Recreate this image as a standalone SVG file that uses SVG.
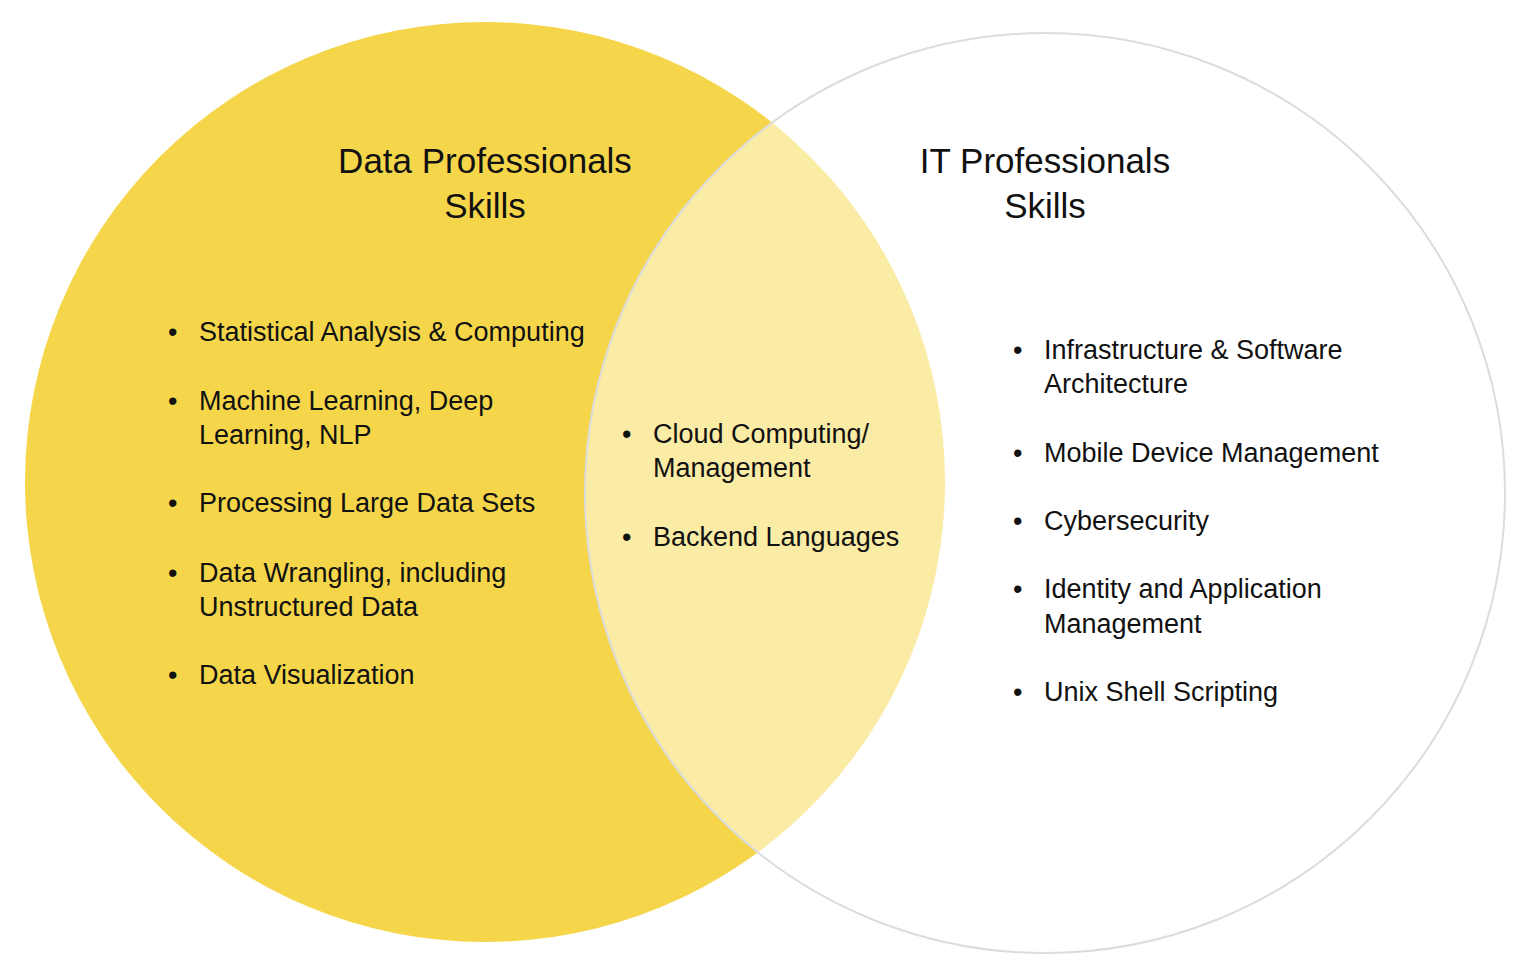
<svg xmlns="http://www.w3.org/2000/svg" width="1536" height="975" viewBox="0 0 1536 975">
<style>
text{font-family:"Liberation Sans",Arial,sans-serif;fill:#111}
.t{font-size:35px}
.i{font-size:27px}
</style>
<rect width="1536" height="975" fill="#fff"/>
<g id="data-circle"><circle cx="485" cy="482" r="460" fill="#F5D64A"/></g>
<g id="it-circle"><circle cx="1045" cy="493" r="460" fill="#fff" fill-opacity="0.5" stroke="#dcdcdc" stroke-width="2"/></g>
<g id="data-title" class="t" text-anchor="middle"><text x="485" y="173" class="t">Data Professionals</text><text x="485" y="218" class="t">Skills</text></g>
<g id="it-title" text-anchor="middle"><text x="1045" y="173" class="t">IT Professionals</text><text x="1045" y="218" class="t">Skills</text></g>
<g id="data-list" class="i">
<text x="168" y="341" class="i">•</text><text x="199" y="341" class="i">Statistical Analysis &amp; Computing</text>
<text x="168" y="410" class="i">•</text><text x="199" y="410" class="i">Machine Learning, Deep</text><text x="199" y="444" class="i">Learning, NLP</text>
<text x="168" y="512" class="i">•</text><text x="199" y="512" class="i">Processing Large Data Sets</text>
<text x="168" y="582" class="i">•</text><text x="199" y="582" class="i">Data Wrangling, including</text><text x="199" y="616" class="i">Unstructured Data</text>
<text x="168" y="684" class="i">•</text><text x="199" y="684" class="i">Data Visualization</text>
</g>
<g id="shared-list">
<text x="622" y="443" class="i">•</text><text x="653" y="443" class="i">Cloud Computing/</text><text x="653" y="477" class="i">Management</text>
<text x="622" y="546" class="i">•</text><text x="653" y="546" class="i">Backend Languages</text>
</g>
<g id="it-list">
<text x="1013" y="359" class="i">•</text><text x="1044" y="359" class="i">Infrastructure &amp; Software</text><text x="1044" y="393" class="i">Architecture</text>
<text x="1013" y="462" class="i">•</text><text x="1044" y="462" class="i">Mobile Device Management</text>
<text x="1013" y="530" class="i">•</text><text x="1044" y="530" class="i">Cybersecurity</text>
<text x="1013" y="598" class="i">•</text><text x="1044" y="598" class="i">Identity and Application</text><text x="1044" y="633" class="i">Management</text>
<text x="1013" y="701" class="i">•</text><text x="1044" y="701" class="i">Unix Shell Scripting</text>
</g>
</svg>
